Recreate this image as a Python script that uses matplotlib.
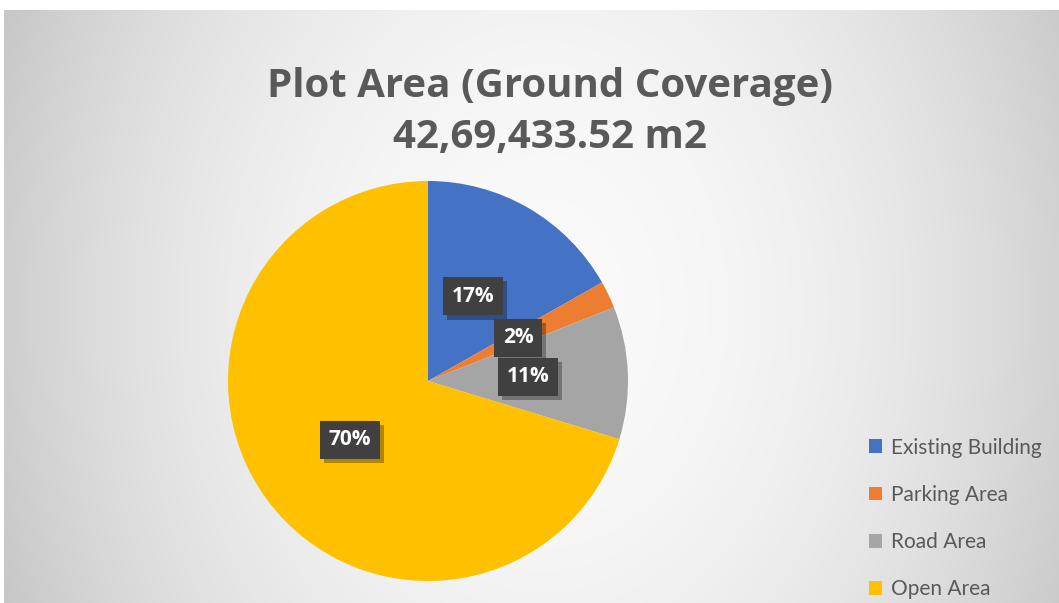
import numpy as np
import matplotlib.pyplot as plt
from matplotlib import patheffects
from matplotlib.patches import Patch

plt.rcParams['font.family'] = ['Lato', 'DejaVu Sans']

categories = ['Existing Building', 'Parking Area', 'Road Area', 'Open Area']
shares = [16.8, 2.2, 10.7, 70.3]
colors = ['#4472C4', '#ED7D31', '#A5A5A5', '#FFC000']
title = 'Plot Area (Ground Coverage)\n42,69,433.52 m2'

W, H = 1059, 603
fig = plt.figure(figsize=(W / 100, H / 100), dpi=100)
fig.patch.set_facecolor('white')

# chart area with a soft radial fill, lighter towards the middle
bg = fig.add_axes([4 / W, 0, 1 - 4 / W, (H - 10) / H], zorder=-5)
yy, xx = np.mgrid[0:H - 10, 0:W - 4]
d2 = ((xx - 540) / 530.0) ** 2 + ((yy - 296) / 700.0) ** 2
shade = np.clip(250 - 42 * d2, 0, 255) / 255.0
bg.imshow(np.dstack([shade] * 3), aspect='auto', interpolation='bilinear')
bg.set_axis_off()

fig.text(550 / W, 1 - 112 / H, title, ha='center', va='center',
         fontsize=29, fontweight='bold', color='#595959', linespacing=1.42,
         family=['Open Sans', 'DejaVu Sans'])

# pie, centred at (428, 381) px with radius 200 px
ax = fig.add_axes([228 / W, (H - 581) / H, 400 / W, 400 / H])
wedges, _, autotexts = ax.pie(shares, colors=colors, startangle=90,
                              counterclock=False, radius=1,
                              autopct=lambda p: '%.0f%%' % p,
                              pctdistance=0.5,
                              textprops=dict(color='white', fontsize=15,
                                             fontweight='bold',
                                             family=['Open Sans', 'DejaVu Sans']))
ax.set_xlim(-1, 1)
ax.set_ylim(-1, 1)
ax.set_axis_off()

# the big slice gets its label nearer the lower left
ang = np.deg2rad(217)
autotexts[3].set_position((0.49 * np.cos(ang), 0.49 * np.sin(ang)))
autotexts[0].set_position((0.48 * np.cos(np.deg2rad(62)), 0.48 * np.sin(np.deg2rad(62))))

for t in autotexts:
    t.set_bbox(dict(boxstyle='square,pad=0.42', facecolor='#404040',
                    edgecolor='none', linewidth=0))
    t.get_bbox_patch().set_path_effects([
        patheffects.SimplePatchShadow(offset=(3, -3), shadow_rgbFace='#000000',
                                      alpha=0.3),
        patheffects.Normal()])

handles = [Patch(facecolor=c, edgecolor='none') for c in colors]
fig.legend(handles, categories, loc='upper left',
           bbox_to_anchor=(850 / W, 1 - 419 / H), frameon=False,
           fontsize=15, labelcolor='#595959', handlelength=0.65,
           handleheight=0.65, handletextpad=0.4, labelspacing=1.3)

fig.savefig('out.png', dpi=100)
